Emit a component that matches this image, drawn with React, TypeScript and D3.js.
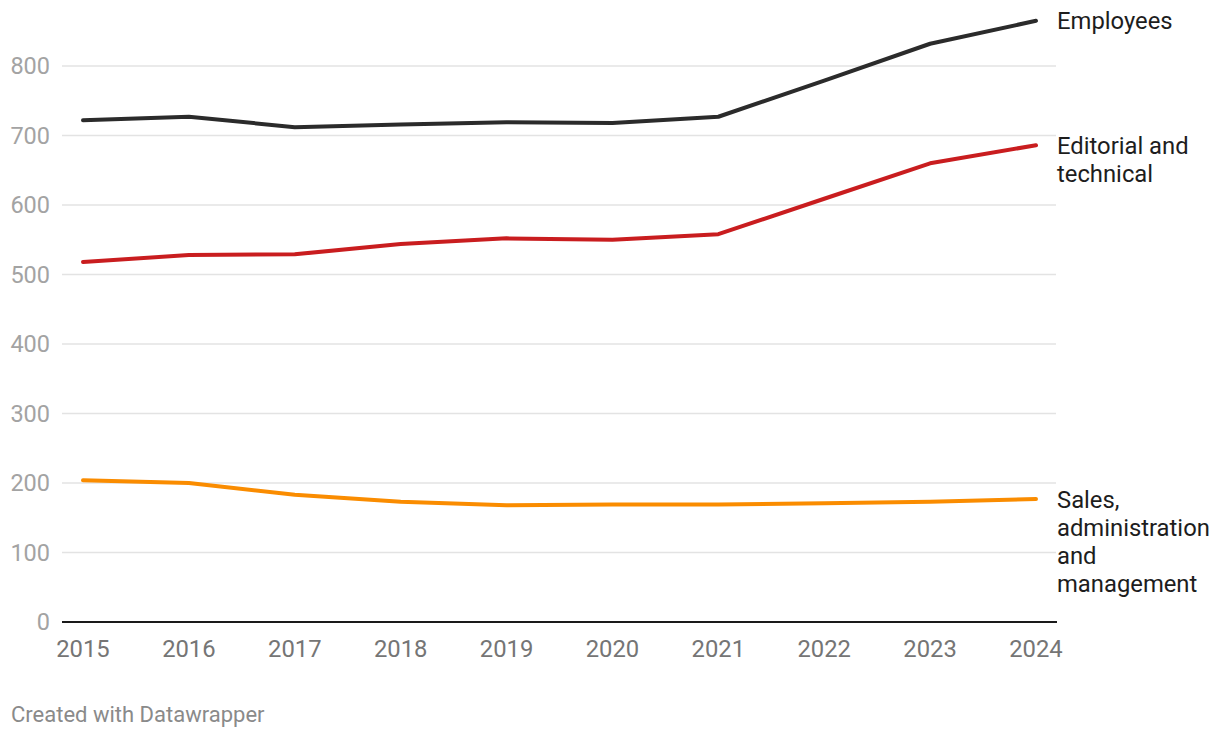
import { useEffect, useRef } from 'react';
import * as d3 from 'd3';

const years = [2015, 2016, 2017, 2018, 2019, 2020, 2021, 2022, 2023, 2024];
const employees = [722, 727, 712, 716, 719, 718, 727, 779, 832, 865];
const editorial = [518, 528, 529, 544, 552, 550, 558, 609, 660, 686];
const sales = [204, 200, 183, 173, 168, 169, 169, 171, 173, 177];
const yTicks = [0, 100, 200, 300, 400, 500, 600, 700, 800];

type Series = {
  name: string[];
  values: number[];
  color: string;
};

const series: Series[] = [
  { name: ['Employees'], values: employees, color: '#2b2b2b' },
  { name: ['Editorial and', 'technical'], values: editorial, color: '#c91d1f' },
  { name: ['Sales,', 'administration', 'and', 'management'], values: sales, color: '#fa8c00' }
];

const WIDTH = 1220;
const HEIGHT = 738;

const Chart = () => {
  const chartRef = useRef<SVGSVGElement | null>(null);

  useEffect(() => {
    if (!chartRef.current) return;
    const svg = d3.select(chartRef.current);
    svg.selectAll('*').remove();

    const font = 'Roboto, sans-serif';
    const gridLeft = 62;
    const gridRight = 1056;

    const xScale = d3.scaleLinear().domain([2015, 2024]).range([83, 1036]);
    const yScale = d3.scaleLinear().domain([0, 800]).range([622, 66]);

    // Grid lines
    svg
      .append('g')
      .selectAll('line')
      .data(yTicks.filter((t) => t !== 0))
      .enter()
      .append('line')
      .attr('x1', gridLeft)
      .attr('x2', gridRight)
      .attr('y1', (d) => yScale(d))
      .attr('y2', (d) => yScale(d))
      .attr('stroke', '#e3e3e3')
      .attr('stroke-width', 1.6);

    // Y tick labels
    svg
      .append('g')
      .selectAll('text')
      .data(yTicks)
      .enter()
      .append('text')
      .attr('x', 50)
      .attr('y', (d) => yScale(d))
      .attr('dy', '0.36em')
      .attr('text-anchor', 'end')
      .style('font-family', font)
      .style('font-size', '23.5px')
      .style('fill', '#a3a3a3')
      .text((d) => d3.format('d')(d));

    // Baseline
    svg
      .append('line')
      .attr('x1', gridLeft)
      .attr('x2', gridRight + 1)
      .attr('y1', yScale(0))
      .attr('y2', yScale(0))
      .attr('stroke', '#1a1a1a')
      .attr('stroke-width', 2);

    // X tick labels
    svg
      .append('g')
      .selectAll('text')
      .data(years)
      .enter()
      .append('text')
      .attr('x', (d) => xScale(d))
      .attr('y', 657)
      .attr('text-anchor', 'middle')
      .style('font-family', font)
      .style('font-size', '23.8px')
      .style('fill', '#757575')
      .text((d) => String(d));

    // Lines
    const line = d3
      .line<number>()
      .x((_, i) => xScale(years[i]))
      .y((d) => yScale(d));

    series.forEach((s) => {
      svg
        .append('path')
        .datum(s.values)
        .attr('fill', 'none')
        .attr('stroke', s.color)
        .attr('stroke-width', 4)
        .attr('stroke-linejoin', 'round')
        .attr('stroke-linecap', 'round')
        .attr('d', line);

      const last = s.values[s.values.length - 1];
      const label = svg
        .append('text')
        .attr('x', 1057)
        .attr('y', yScale(last))
        .style('font-family', font)
        .style('font-size', '23.8px')
        .style('fill', '#1d1d1d');
      s.name.forEach((n, i) => {
        label
          .append('tspan')
          .attr('x', 1057)
          .attr('dy', i === 0 ? '0.36em' : '28')
          .text(n);
      });
    });

    // Footer
    svg
      .append('text')
      .attr('x', 11)
      .attr('y', 722)
      .style('font-family', font)
      .style('font-size', '22px')
      .style('fill', '#8a8a8a')
      .text('Created with Datawrapper');
  }, []);

  return <svg ref={chartRef} width={WIDTH} height={HEIGHT} style={{ display: 'block' }} />;
};

export default function App() {
  return (
    <div style={{ margin: -8, background: '#fff', width: WIDTH, height: HEIGHT }}>
      <Chart />
    </div>
  );
}
